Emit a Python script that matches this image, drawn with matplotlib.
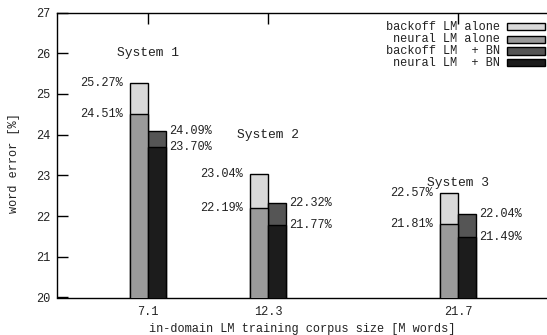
import matplotlib
matplotlib.use("Agg")
import matplotlib.pyplot as plt
import numpy as np
from matplotlib.patches import Rectangle

corpus_sizes = ["7.1", "12.3", "21.7"]
systems = ["System 1", "System 2", "System 3"]
backoff_alone = [25.27, 23.04, 22.57]
neural_alone = [24.51, 22.19, 21.81]
backoff_bn = [24.09, 22.32, 22.04]
neural_bn = [23.70, 21.77, 21.49]
system_label_y = [26.0, 24.0, 22.8]
series_names = ["backoff LM alone", "neural LM alone", "backoff LM  + BN", "neural LM  + BN"]

colors = ["#d9d9d9", "#9a9a9a", "#555555", "#1c1c1c"]
positions = np.array([0.0, 1.0, 2.583])
w = 0.15
font = "Liberation Mono"
fs = 8.6

W, H = 547, 335
fig = plt.figure(figsize=(W / 100, H / 100), dpi=100)
ax = fig.add_axes([57 / W, (H - 297.5) / H, (W - 57) / W, 285 / H])
ax.set_xlim(-91 / 120, 490 / 120 - 91 / 120)
ax.set_ylim(20, 27)

ax.bar(positions - w / 2, backoff_alone, width=w, color=colors[0], edgecolor="black", linewidth=1, zorder=2)
ax.bar(positions - w / 2, neural_alone, width=w, color=colors[1], edgecolor="black", linewidth=1, zorder=3)
ax.bar(positions + w / 2, backoff_bn, width=w, color=colors[2], edgecolor="black", linewidth=1, zorder=2)
ax.bar(positions + w / 2, neural_bn, width=w, color=colors[3], edgecolor="black", linewidth=1, zorder=3)

for i, p in enumerate(positions):
    for v in (backoff_alone[i], neural_alone[i]):
        ax.text(p - w - 0.06, v, f"{v:.2f}%", ha="right", va="center", family=font, fontsize=fs, color="#222222")
    for v in (backoff_bn[i], neural_bn[i]):
        ax.text(p + w + 0.03, v, f"{v:.2f}%", ha="left", va="center", family=font, fontsize=fs, color="#222222")
    ax.text(p, system_label_y[i], systems[i], ha="center", va="center", family=font, fontsize=9.4, color="#222222")

ax.set_xticks(positions)
ax.set_xticklabels(corpus_sizes, family=font, fontsize=fs, color="#222222")
ax.set_yticks(range(20, 28))
ax.set_yticklabels([str(t) for t in range(20, 28)], family=font, fontsize=fs, color="#222222")
ax.tick_params(axis="both", direction="in", length=8, width=1, top=True, right=False)
ax.tick_params(axis="x", pad=6)
ax.tick_params(axis="y", pad=5)
ax.spines["right"].set_visible(False)
for s in ("left", "top", "bottom"):
    ax.spines[s].set_linewidth(1)
ax.set_xlabel("in-domain LM training corpus size [M words]", family=font, fontsize=fs, labelpad=4, color="#222222")
ax.set_ylabel("word error [%]", family=font, fontsize=fs, color="#222222")
ax.yaxis.set_label_coords(-0.0755, 0.472)

# legend (gnuplot style)
row_y = [26.7, 39.3, 51.0, 62.6]
for name, c, yy in zip(series_names, colors, row_y):
    fig.text(500 / W, 1 - yy / H, name, ha="right", va="center", family=font, fontsize=fs, color="#222222")
    fig.patches.append(Rectangle((507 / W, 1 - (yy + 3.7) / H), 38 / W, 7.4 / H,
                                 transform=fig.transFigure, facecolor=c, edgecolor="black", linewidth=1))

fig.savefig("out.png", dpi=100)
